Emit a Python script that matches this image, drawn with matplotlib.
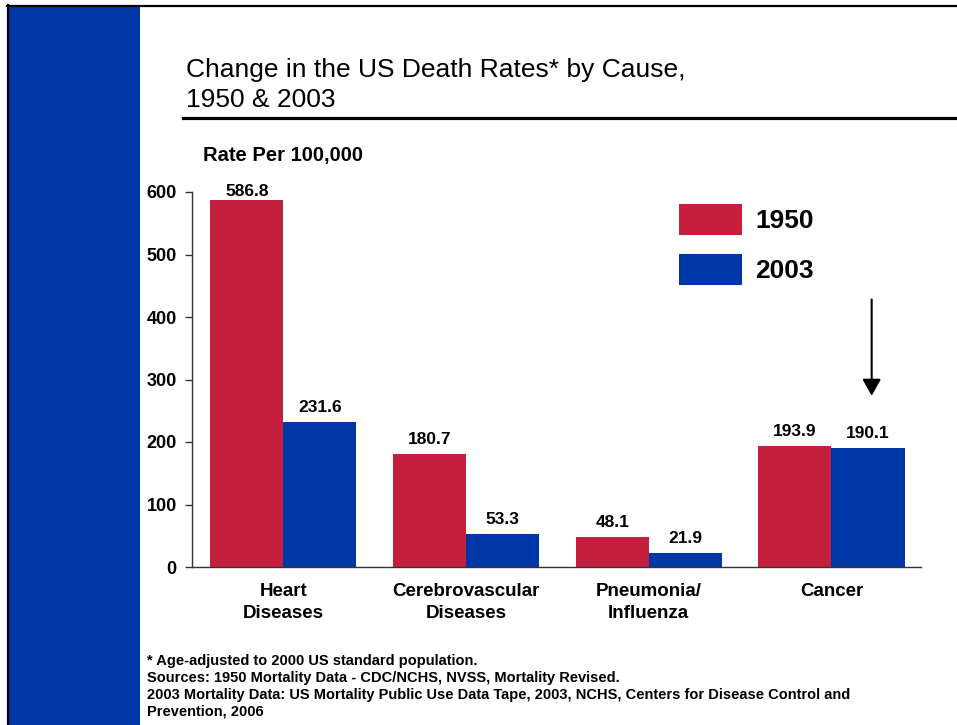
import matplotlib
matplotlib.use("Agg")
import matplotlib.pyplot as plt
from matplotlib.patches import Rectangle
from matplotlib.lines import Line2D
import numpy as np

plt.rcParams['font.family'] = ['Liberation Sans', 'DejaVu Sans']

# Data
causes = ["Heart\nDiseases", "Cerebrovascular\nDiseases", "Pneumonia/\nInfluenza", "Cancer"]
rates_1950 = [586.8, 180.7, 48.1, 193.9]
rates_2003 = [231.6, 53.3, 21.9, 190.1]
series_labels = ["1950", "2003"]
y_ticks = [0, 100, 200, 300, 400, 500, 600]

RED = "#C41F3C"
BLUE = "#0037A6"

W, H = 957, 725
fig = plt.figure(figsize=(W / 100, H / 100), dpi=100)


def fx(px):
    return px / W


def fy(py):
    return 1 - py / H


# Slide frame: blue side band with black top/left border
fig.add_artist(Rectangle((fx(9), 0), fx(140) - fx(9), fy(7), transform=fig.transFigure,
                         facecolor=BLUE, edgecolor='none', zorder=0))
fig.add_artist(Line2D([fx(8), fx(8)], [0, fy(5)], transform=fig.transFigure,
                      color='black', lw=1.6))
fig.add_artist(Line2D([fx(7), 1], [fy(6), fy(6)], transform=fig.transFigure,
                      color='black', lw=1.6))

# Title and rule
fig.text(fx(186), fy(70), "Change in the US Death Rates* by Cause,", fontsize=19,
         ha='left', va='center')
fig.text(fx(186), fy(100), "1950 & 2003", fontsize=19, ha='left', va='center')
fig.add_artist(Line2D([fx(183), 1], [fy(117.5), fy(117.5)], transform=fig.transFigure,
                      color='black', lw=2.3))

# Chart
ax = fig.add_axes([fx(192), fy(567), fx(921) - fx(192), (567 - 192) / H])
x = np.arange(len(causes))
w = 0.4
b1 = ax.bar(x - w / 2, rates_1950, w, color=RED, label=series_labels[0])
b2 = ax.bar(x + w / 2, rates_2003, w, color=BLUE, label=series_labels[1])

lab1 = ax.bar_label(b1, fmt="%.1f", padding=5, fontsize=12.5, fontweight='bold')
ax.bar_label(b2, fmt="%.1f", padding=5, fontsize=12.5, fontweight='bold')
lab1[0].xyann = (0, 1.0)

ax.set_xlim(-0.5, 3.49)
ax.set_ylim(0, 600)
ax.set_yticks(y_ticks)
ax.set_yticklabels([str(t) for t in y_ticks], fontsize=13, fontweight='bold')
ax.set_xticks(x)
ax.set_xticklabels(causes, fontsize=13.5, fontweight='bold', linespacing=1.4)
ax.tick_params(axis='x', length=0, pad=11.5)
ax.tick_params(axis='y', length=5, width=1, color='#333333', pad=6)
for s in ('top', 'right'):
    ax.spines[s].set_visible(False)
for s in ('left', 'bottom'):
    ax.spines[s].set_color('#333333')
    ax.spines[s].set_linewidth(1.0)

fig.text(fx(203), fy(155), "Rate Per 100,000", fontsize=14.5, fontweight='bold',
         ha='left', va='center')

# Arrow pointing at the 2003 cancer bar
ax.annotate("", xy=(3.22, 274), xytext=(3.22, 428),
            arrowprops=dict(arrowstyle='-|>,head_length=0.5,head_width=0.28',
                            mutation_scale=20, color='black', lw=1.5,
                            shrinkA=0, shrinkB=0))

leg = ax.legend(loc='upper left', bbox_to_anchor=(fx(679), fy(204)),
                bbox_transform=fig.transFigure, frameon=False, borderpad=0,
                borderaxespad=0, handlelength=2.4, handleheight=1.45,
                labelspacing=0.7, handletextpad=0.5,
                prop={'size': 19, 'weight': 'bold'})

# Footnotes
notes = [
    "* Age-adjusted to 2000 US standard population.",
    "Sources: 1950 Mortality Data - CDC/NCHS, NVSS, Mortality Revised.",
    "2003 Mortality Data: US Mortality Public Use Data Tape, 2003, NCHS, Centers for Disease Control and",
    "Prevention, 2006",
]
for i, t in enumerate(notes):
    fig.text(fx(147), fy(661 + i * 17), t, fontsize=10.5, fontweight='bold',
             ha='left', va='center')

fig.savefig("out.png", dpi=100)
